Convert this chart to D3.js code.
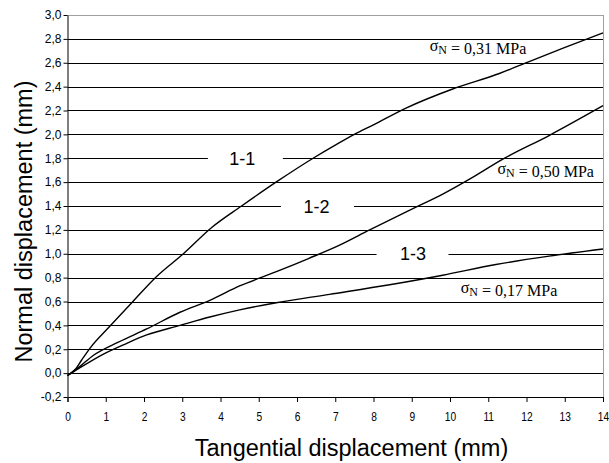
<!DOCTYPE html>
<html>
<head>
<meta charset="utf-8">
<script src="https://cdn.jsdelivr.net/npm/d3@7"></script>
<style>
  body { margin: 0; background: #fff; }
  svg { font-family: "Liberation Sans", Arial, Helvetica, sans-serif; }
</style>
</head>
<body>
<div id="chart"></div>
<script>
// Curve 1-1 (sigma N = 0,31 MPa)
var tang11 = [0, 0.2, 0.37, 0.59, 1.1, 1.68, 2.33, 3.03, 3.77, 4.55, 5.5, 6.42, 7.0, 7.5, 8.0, 8.85, 10.07, 11.29, 12.07, 12.94, 14.0];
var norm11 = [-0.02, 0.03, 0.11, 0.21, 0.39, 0.59, 0.81, 1.00, 1.22, 1.40, 1.61, 1.80, 1.91, 2.00, 2.08, 2.22, 2.38, 2.51, 2.61, 2.72, 2.85];

// Curve 1-2 (sigma N = 0,50 MPa)
var tang12 = [0, 0.3, 0.68, 1.33, 2.07, 2.94, 3.72, 4.5, 5.46, 6.3, 7.1, 7.9, 9.11, 9.81, 10.59, 11.37, 12.59, 14.0];
var norm12 = [-0.02, 0.05, 0.15, 0.26, 0.37, 0.51, 0.61, 0.73, 0.85, 0.96, 1.07, 1.20, 1.39, 1.50, 1.64, 1.79, 1.99, 2.24];

// Curve 1-3 (sigma N = 0,17 MPa)
var tang13 = [0, 0.3, 0.94, 1.55, 2.07, 2.94, 3.72, 4.5, 5.46, 6.85, 8.42, 9.81, 11.2, 12.59, 14.0];
var norm13 = [-0.02, 0.04, 0.16, 0.25, 0.32, 0.40, 0.47, 0.53, 0.59, 0.66, 0.74, 0.82, 0.91, 0.98, 1.04];

var xTicks = [0, 1, 2, 3, 4, 5, 6, 7, 8, 9, 10, 11, 12, 13, 14];
var yTicks = [-0.2, 0, 0.2, 0.4, 0.6, 0.8, 1.0, 1.2, 1.4, 1.6, 1.8, 2.0, 2.2, 2.4, 2.6, 2.8, 3.0];

var curveNames = ["1-1", "1-2", "1-3"];
var stressLabels = ["0,31 MPa", "0,50 MPa", "0,17 MPa"];

(function() {
  var W = 609, H = 463;
  var m = {left: 67.5, right: 603, top: 15, bottom: 397};

  var svg = d3.select("#chart").append("svg")
    .attr("width", W)
    .attr("height", H);

  var x = d3.scaleLinear().domain([0, 14]).range([m.left, m.right]);
  var y = d3.scaleLinear().domain([-0.2, 3.0]).range([m.bottom, m.top]);

  //comma decimals, plain hyphen minus
  var loc = d3.formatLocale({decimal: ",", thousands: ".", grouping: [3], currency: ["", ""], minus: "-"});
  var fmt = loc.format(".1f");

  //Gridlines
  svg.append("g")
    .selectAll("line")
    .data(yTicks.filter(d => d > -0.1))
    .enter()
    .append("line")
    .attr("x1", m.left)
    .attr("x2", m.right)
    .attr("y1", d => Math.round(y(d)) + 0.5)
    .attr("y2", d => Math.round(y(d)) + 0.5)
    .style("stroke", d => d > 2.9 ? "#a0a0a0" : "#000")
    .style("stroke-width", 1);

  //Right border
  svg.append("line")
    .attr("x1", Math.round(m.right) + 0.5)
    .attr("x2", Math.round(m.right) + 0.5)
    .attr("y1", y(3.0))
    .attr("y2", y(-0.2))
    .style("stroke", "#a0a0a0");

  //Curve labels sitting on gridlines
  var curveLabels = [
    {name: curveNames[0], at: 4.57, level: 1.8, gap: [3.67, 5.63]},
    {name: curveNames[1], at: 6.51, level: 1.4, gap: [5.58, 7.49]},
    {name: curveNames[2], at: 9.03, level: 1.0, gap: [8.08, 9.96]}
  ];

  svg.append("g")
    .selectAll("rect")
    .data(curveLabels)
    .enter()
    .append("rect")
    .attr("x", d => x(d.gap[0]))
    .attr("width", d => x(d.gap[1]) - x(d.gap[0]))
    .attr("y", d => y(d.level) - 8)
    .attr("height", 16)
    .style("fill", "#fff");

  svg.append("g")
    .selectAll("text")
    .data(curveLabels)
    .enter()
    .append("text")
    .attr("x", d => x(d.at))
    .attr("y", d => y(d.level) + 6.5)
    .attr("text-anchor", "middle")
    .style("font-size", "18px")
    .text(d => d.name);

  //Lines
  var series = [
    {t: tang11, n: norm11},
    {t: tang12, n: norm12},
    {t: tang13, n: norm13}
  ];

  var line = d3.line()
    .x(d => x(d[0]))
    .y(d => y(d[1]))
    .curve(d3.curveMonotoneX);

  svg.append("g")
    .selectAll("path")
    .data(series)
    .enter()
    .append("path")
    .attr("d", s => line(s.t.map((v, i) => [v, s.n[i]])))
    .style("fill", "none")
    .style("stroke", "#000")
    .style("stroke-width", 1.4);

  //Normal stress annotations
  var stressPos = [
    {at: 9.47, level: 2.677},
    {at: 11.24, level: 1.647},
    {at: 10.28, level: 0.65}
  ];

  var st = svg.append("g")
    .selectAll("text")
    .data(stressPos)
    .enter()
    .append("text")
    .attr("x", d => x(d.at))
    .attr("y", d => y(d.level))
    .style("font-family", "'Liberation Serif', 'Times New Roman', serif")
    .style("font-size", "16px");
  st.append("tspan").attr("dy", -3).text("σ");
  st.append("tspan").attr("dy", 3).style("font-size", "12px").text("N");
  st.append("tspan").text((d, i) => " = " + stressLabels[i]);

  //Axes
  var xAxis = svg.append("g")
    .attr("transform", "translate(0," + m.bottom + ")")
    .call(d3.axisBottom(x).tickValues(xTicks).tickSize(5).tickPadding(10).tickFormat(d3.format("d")));
  xAxis.attr("font-size", null).attr("font-family", null);
  xAxis.select(".domain").style("stroke", "#000");
  xAxis.selectAll("text")
    .attr("transform", "scale(0.85,1)")
    .style("font-size", "12px")
    .style("fill", "#000");

  var yAxis = svg.append("g")
    .attr("transform", "translate(" + m.left + ",0)")
    .call(d3.axisLeft(y).tickValues(yTicks).tickSize(4).tickPadding(2).tickFormat(fmt).tickSizeOuter(0));
  yAxis.attr("font-size", null).attr("font-family", null);
  yAxis.selectAll("text")
    .style("font-size", "12px")
    .style("fill", "#000");

  //Axis titles
  svg.append("text")
    .attr("x", 351.5)
    .attr("y", 456)
    .attr("text-anchor", "middle")
    .style("font-size", "23.5px")
    .text("Tangential displacement (mm)");

  svg.append("text")
    .attr("transform", "translate(31.5,221.5) rotate(-90)")
    .attr("text-anchor", "middle")
    .style("font-size", "23.5px")
    .text("Normal displacement (mm)");
})();
</script>
</body>
</html>
